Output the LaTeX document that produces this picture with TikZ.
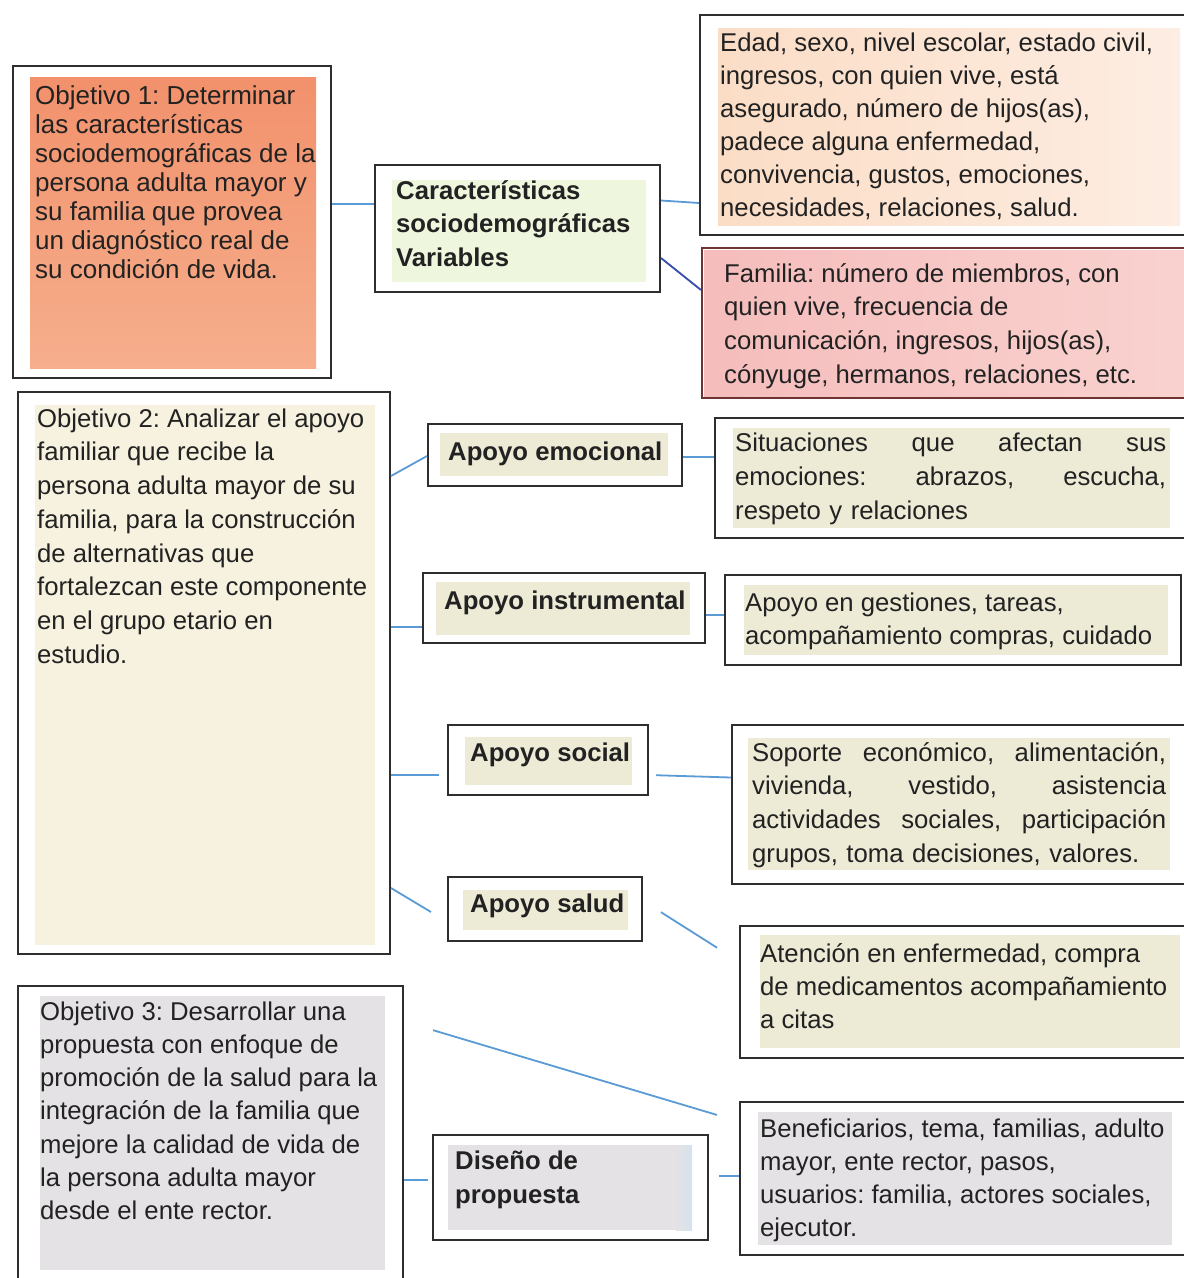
\documentclass[tikz,border=0pt]{standalone}
\usepackage{fontspec}
\setmainfont{Liberation Sans}
\usetikzlibrary{calc,fit}
\frenchspacing
\definecolor{boxline}{HTML}{2E2E2E}
\definecolor{famline}{HTML}{6E3434}
\definecolor{conn}{HTML}{5B9BD5}
\definecolor{conndark}{HTML}{3B4FB0}
\definecolor{txtc}{HTML}{222222}
\definecolor{objAtop}{HTML}{F2916C}
\definecolor{objAbot}{HTML}{F6AE8C}
\definecolor{carfill}{HTML}{EEF6DE}
\definecolor{edadL}{HTML}{FBDDC6}
\definecolor{edadR}{HTML}{FDEDE2}
\definecolor{famL}{HTML}{F5BDBC}
\definecolor{famR}{HTML}{F9D2CF}
\definecolor{creamfill}{HTML}{F6F2DF}
\definecolor{beige}{HTML}{EDEAD6}
\definecolor{grayfill}{HTML}{E4E2E5}
\definecolor{bluish}{HTML}{D6E2EE}
\newcommand\mkbox[6][]{%
  \coordinate (#2-a) at (#3,#4);
  \coordinate (#2-b) at (#5,#6);
  \node[obox,fit=(#2-a)(#2-b),#1] (#2) {};}
\begin{document}
\begin{tikzpicture}[x=1pt,y=-1pt,
  obox/.style={draw=boxline,line width=2pt,inner sep=0pt},
  txt/.style={inner sep=0pt,anchor=north west,align=left,text=txtc},
  connl/.style={draw=conn,line width=1.8pt},
  f/.style 2 args={font=\fontsize{#1}{#2}\selectfont\frenchspacing},
  fb/.style 2 args={font=\fontsize{#1}{#2}\selectfont\bfseries\frenchspacing}]
\useasboundingbox[fill=white] (0,0) rectangle (1184,1278);

% ---------- boxes ----------
\mkbox{obj1}{13}{66}{331}{378}
\mkbox{car}{375}{165}{660}{292}
\mkbox{edad}{700}{15}{1192}{235}
\mkbox[draw=famline]{fam}{702}{248}{1192}{398}
\mkbox{obj2}{18}{392}{390}{954}
\mkbox{emo}{428}{424}{682}{486}
\mkbox{sit}{715}{418}{1192}{538}
\mkbox{inst}{423}{573}{705}{643}
\mkbox{gest}{725}{575}{1181}{665}
\mkbox{soc}{448}{725}{648}{795}
\mkbox{sop}{732}{725}{1192}{884}
\mkbox{sal}{448}{877}{642}{941}
\mkbox{ate}{740}{926}{1192}{1058}
\mkbox{obj3}{18}{986}{403}{1295}
\mkbox{dis}{433}{1135}{708}{1240}
\mkbox{ben}{740}{1102}{1192}{1255}

% ---------- inner fills ----------
\shade[top color=objAtop,bottom color=objAbot] (30,77) rectangle (316,368);
\fill[carfill] (392,180) rectangle (646,282);
\shade[left color=edadL,right color=edadR] (718,28) rectangle (1180,225);
\shade[left color=famL,right color=famR] (704,250) rectangle (1190,396);
\fill[creamfill] (35,405) rectangle (375,945);
\fill[beige] (440,433) rectangle (668,476);
\fill[beige] (733,428) rectangle (1170,528);
\fill[beige] (436,582) rectangle (690,635);
\fill[beige] (744,585) rectangle (1168,655);
\fill[beige] (465,737) rectangle (632,785);
\fill[beige] (748,738) rectangle (1170,870);
\fill[beige] (463,890) rectangle (628,930);
\fill[beige] (760,935) rectangle (1180,1048);
\fill[grayfill] (40,996) rectangle (385,1270);
\fill[grayfill] (448,1145) rectangle (676,1230);
\shade[left color=grayfill,right color=bluish] (676,1145) rectangle (692,1230);
\fill[grayfill] (758,1112) rectangle (1172,1245);

% ---------- texts ----------
\node[txt,f={26}{29}] (obj1-t) at (35,84.2) {\strut Objetivo 1: Determinar\\las características\\sociodemográficas de la\\persona adulta mayor y\\su familia que provea\\un diagnóstico real de\\su condición de vida.};
\node[txt,fb={25.7}{33.5}] (car-t) at (396,175.5) {\strut Características\\sociodemográficas\\Variables};
\node[txt,f={25.7}{33}] (edad-t) at (720,27.9) {\strut Edad, sexo, nivel escolar, estado civil,\\ingresos, con quien vive, está\\asegurado, número de hijos(as),\\padece alguna enfermedad,\\convivencia, gustos, emociones,\\necesidades, relaciones, salud.};
\node[txt,f={25.7}{33.7}] (fam-t) at (724,258.4) {\strut Familia: número de miembros, con\\quien vive, frecuencia de\\comunicación, ingresos, hijos(as),\\cónyuge, hermanos, relaciones, etc.};
\node[txt,f={25.7}{33.7}] (obj2-t) at (37,403.4) {\strut Objetivo 2: Analizar el apoyo\\familiar que recibe la\\persona adulta mayor de su\\familia, para la construcción\\de alternativas que\\fortalezcan este componente\\en el grupo etario en\\estudio.};
\node[txt,fb={25.7}{33}] (emo-t) at (448,436.9) {\strut Apoyo emocional};
\node[txt,f={25.7}{34},text width=431] (sit-t) at (735,427.2) {\strut Situaciones\hfill que\hfill afectan\hfill sus\\emociones:\hfill abrazos,\hfill escucha,\\respeto y relaciones};
\node[txt,fb={25.7}{33}] (inst-t) at (444,585.9) {\strut Apoyo instrumental};
\node[txt,f={25.7}{33}] (gest-t) at (745,587.9) {\strut Apoyo en gestiones, tareas,\\acompañamiento compras, cuidado};
\node[txt,fb={25.7}{33}] (soc-t) at (470,737.9) {\strut Apoyo social};
\node[txt,f={25.7}{33.7},text width=414] (sop-t) at (752,737.4) {\strut Soporte\hfill económico,\hfill alimentación,\\vivienda,\hfill vestido,\hfill asistencia\\actividades\hfill sociales,\hfill participación\\grupos, toma decisiones, valores.};
\node[txt,fb={25.7}{33}] (sal-t) at (470,888.9) {\strut Apoyo salud};
\node[txt,f={25.7}{33}] (ate-t) at (760,938.9) {\strut Atención en enfermedad, compra\\de medicamentos acompañamiento\\a citas};
\node[txt,f={25.7}{33.2}] (obj3-t) at (40,996.8) {\strut Objetivo 3: Desarrollar una\\propuesta con enfoque de\\promoción de la salud para la\\integración de la familia que\\mejore la calidad de vida de\\la persona adulta mayor\\desde el ente rector.};
\node[txt,fb={25.7}{34}] (dis-t) at (455,1145.2) {\strut Diseño de\\propuesta};
\node[txt,f={25.7}{33}] (ben-t) at (760,1113.9) {\strut Beneficiarios, tema, familias, adulto\\mayor, ente rector, pasos,\\usuarios: familia, actores sociales,\\ejecutor.};

% ---------- connectors ----------
\draw[connl] ($(obj1.east)+(0,-18)$) -- ($(car.west)+(0,-24.5)$);
\draw[connl] ($(car.east)+(0,-28)$) -- ($(edad.west)+(0,78)$);
\draw[connl,draw=conndark] ($(car.east)+(0,29.5)$) -- ($(fam.west)+(0,-33)$);
\draw[connl] ($(obj2.east)+(0,-197)$) -- ($(emo.west)+(0,1)$);
\draw[connl] ($(emo.east)+(0,2)$) -- ($(sit.west)+(0,-21)$);
\draw[connl] ($(obj2.east)+(0,-46)$) -- ($(inst.west)+(0,19)$);
\draw[connl] ($(inst.east)+(0,7)$) -- ($(gest.west)+(0,-5)$);
\draw[connl,shorten >=8pt] ($(obj2.east)+(0,102)$) -- ($(soc.west)+(0,15)$);
\draw[connl,shorten <=7pt] ($(soc.east)+(0,15)$) -- ($(sop.west)+(0,-27)$);
\draw[connl,shorten >=18.7pt] ($(obj2.east)+(0,215)$) -- ($(sal.west)+(0,12.6)$);
\draw[connl,shorten <=21.2pt,shorten >=25.9pt] ($(sal.east)+(0,-8.2)$) -- ($(ate.west)+(0,-30.4)$);
\draw[connl,shorten <=30.3pt,shorten >=23pt] ($(obj3.east)+(0,-119)$) -- ($(ben.west)+(0,-57)$);
\draw[connl,shorten >=4pt] ($(obj3.east)+(0,39.5)$) -- ($(dis.west)+(0,-7.5)$);
\draw[connl,shorten <=10pt] ($(dis.east)+(0,-11.5)$) -- ($(ben.west)+(0,-2.5)$);
\end{tikzpicture}
\end{document}
